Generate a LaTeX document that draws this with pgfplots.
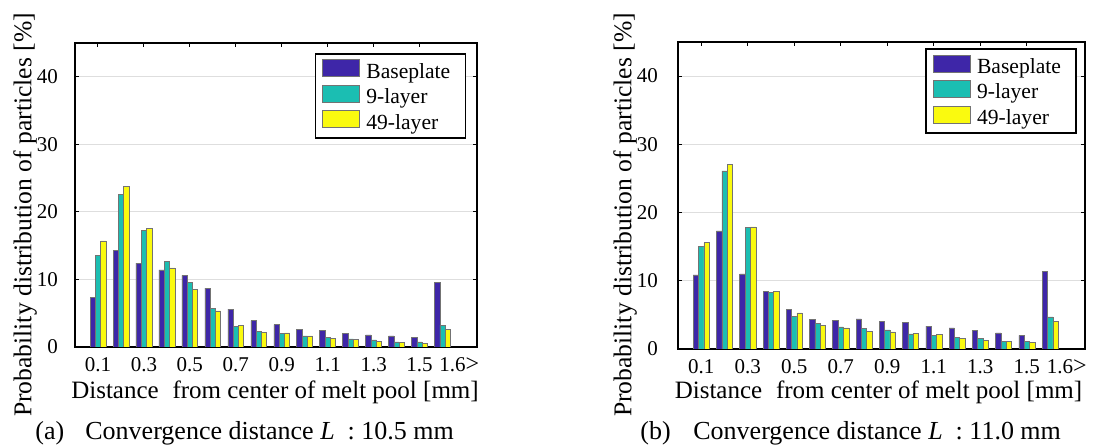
\documentclass[border=0pt]{standalone}
\usepackage{fontspec}
\setmainfont{Liberation Serif}
\usepackage{pgfplots}
\usepackage{pgfplotstable}
\pgfplotsset{compat=1.18}
\definecolor{basec}{RGB}{62,38,168}
\definecolor{ninec}{RGB}{27,190,178}
\definecolor{fortyc}{RGB}{250,250,15}
\definecolor{gridc}{RGB}{222,222,222}
\definecolor{edgec}{RGB}{115,115,115}

% x = bin index (1 -> 0.1 mm ... 16 -> 1.6> mm); b = baseplate, n = 9-layer, f = 49-layer
\pgfplotstableread{
x b n f
1 7.3 13.5 15.7
2 14.3 22.6 23.8
3 12.4 17.2 17.5
4 11.4 12.7 11.7
5 10.6 9.6 8.5
6 8.7 5.7 5.35
7 5.6 3.1 3.2
8 3.9 2.3 2.2
9 3.3 2.0 2.1
10 2.6 1.65 1.65
11 2.4 1.4 1.3
12 2.0 1.2 1.1
13 1.8 1.05 0.8
14 1.65 0.75 0.65
15 1.45 0.75 0.55
16 9.6 3.25 2.6
}\tabA
\pgfplotstableread{
x b n f
1 10.85 15.0 15.6
2 17.3 26.1 27.05
3 11.0 17.8 17.9
4 8.5 8.3 8.5
5 5.75 4.8 5.3
6 4.3 3.75 3.5
7 4.15 3.25 3.1
8 4.4 3.0 2.55
9 4.1 2.8 2.5
10 3.85 2.2 2.25
11 3.35 2.05 2.1
12 3.1 1.7 1.6
13 2.75 1.5 1.25
14 2.35 1.1 1.1
15 2.0 1.1 0.95
16 11.4 4.7 4.0
}\tabB

\pgfplotsset{
  distax/.style={
    scale only axis, ybar,
    ymin=0, ymax=45, xmin=0, xmax=17.5,
    ytick={0,10,...,40},
    xtick={1,3,5,7,9,11,13,15},
    xticklabels={0.1,0.3,0.5,0.7,0.9,1.1,1.3,1.5},
    extra x ticks={16}, extra x tick labels={\hspace{10pt}1.6\rlap{\fontsize{12}{12}\selectfont>}},
    extra x tick style={major tick length=0pt},
    tick align=inside, xtick pos=both, ytick pos=both, major tick length=2.2pt,
    ymajorgrids, grid style={gridc, line width=0.6pt},
    axis line style={black, line width=0.6pt},
    tick style={black, line width=0.5pt},
    ticklabel style={font=\fontsize{10.5}{12}\selectfont},
    /pgf/number format/assume math mode=true,
    xticklabel style={anchor=base, yshift=-12.3pt},
    bar width=0.23,
    legend style={anchor=north east, draw=black, line width=0.8pt, fill=white,
      inner xsep=3.5pt, inner ysep=2.8pt, row sep=1.8pt,
      font=\fontsize{10.8}{12}\selectfont, nodes={inner sep=0pt}},
    legend cell align=left,
  },
  barst/.style={fill=#1, draw=edgec, line width=0.3pt,
    legend image code/.code={\draw[##1] (0pt,-2.2pt) rectangle (18.5pt,6.3pt); \path[draw=none,fill=none] (0pt,0pt) -- (21.8pt,0pt);}},
}

\begin{document}
\begin{tikzpicture}
\path[use as bounding box] (0,0) rectangle (549pt,224pt);

\begin{axis}[distax, at={(37.5pt,50.5pt)}, anchor=south west, width=201pt, height=152pt,
  yticklabel style={anchor=east, xshift=-5pt},
  legend style={at={(0.973,0.967)}}]
  \addplot[barst=basec, bar shift=-0.23] table[x=x, y=b] {\tabA};
  \addplot[barst=ninec, bar shift=0] table[x=x, y=n] {\tabA};
  \addplot[barst=fortyc, bar shift=0.23] table[x=x, y=f] {\tabA};
  \legend{\makebox[46pt][l]{Baseplate},\makebox[46pt][l]{9-layer},\makebox[46pt][l]{49-layer}}
\end{axis}

\begin{axis}[distax, at={(339pt,49.5pt)}, anchor=south west, width=203.5pt, height=153.5pt,
  yticklabel style={anchor=east, xshift=-6.5pt},
  legend style={at={(0.98,0.98)}}]
  \addplot[barst=basec, bar shift=-0.23] table[x=x, y=b] {\tabB};
  \addplot[barst=ninec, bar shift=0] table[x=x, y=n] {\tabB};
  \addplot[barst=fortyc, bar shift=0.23] table[x=x, y=f] {\tabB};
  \legend{\makebox[46pt][l]{Baseplate},\makebox[46pt][l]{9-layer},\makebox[46pt][l]{49-layer}}
\end{axis}

\node[rotate=90, font=\fontsize{12.8}{14}\selectfont] at (12.5pt,116.5pt) {Probability distribution of particles [\%]};
\node[rotate=90, font=\fontsize{12.8}{14}\selectfont] at (312.5pt,116.5pt) {Probability distribution of particles [\%]};
\node[anchor=base, font=\fontsize{12.5}{14}\selectfont] at (137.5pt,24.5pt) {Distance\hspace{0.3em} from center of melt pool [mm]};
\node[anchor=base, font=\fontsize{12.5}{14}\selectfont] at (439.25pt,24.5pt) {Distance\hspace{0.3em} from center of melt pool [mm]};
\node[anchor=base west, inner sep=0pt, font=\fontsize{13}{15}\selectfont] at (17.5pt,4.4pt) {(a)};
\node[anchor=base west, inner sep=0pt, font=\fontsize{13}{15}\selectfont] at (42.5pt,4.4pt) {Convergence distance \textit{L}\ \ : 10.5 mm};
\node[anchor=base west, inner sep=0pt, font=\fontsize{13}{15}\selectfont] at (320pt,4.4pt) {(b)};
\node[anchor=base west, inner sep=0pt, font=\fontsize{13}{15}\selectfont] at (346.5pt,4.4pt) {Convergence distance \textit{L}\ \ : 11.0 mm};
\end{tikzpicture}
\end{document}
